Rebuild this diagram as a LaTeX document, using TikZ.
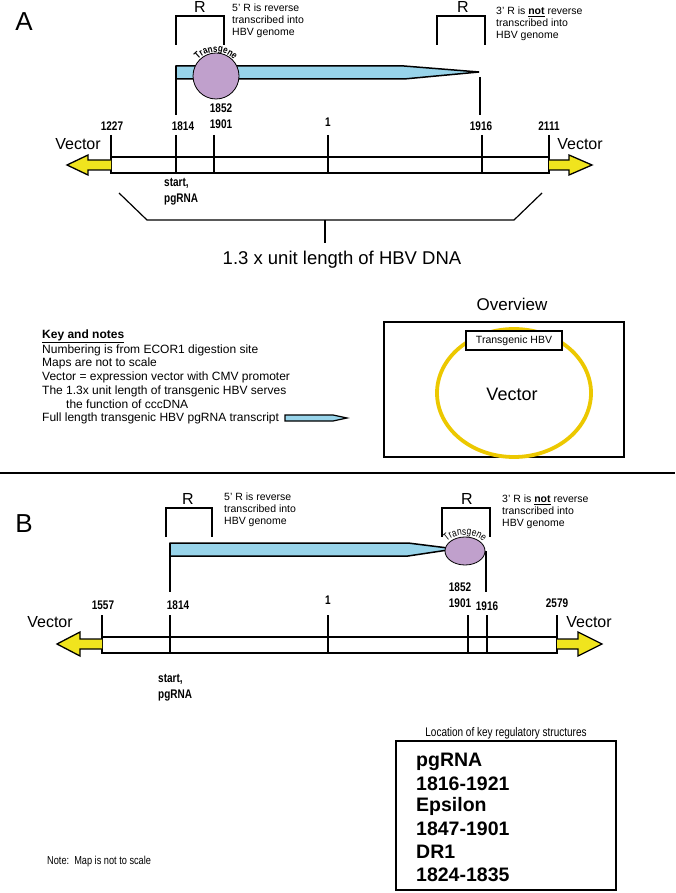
\documentclass[tikz,border=0pt]{standalone}
\usepackage{fontspec}
\setmainfont{Liberation Sans}
\newfontfamily\nar[FakeStretch=0.8]{Liberation Sans}
\usetikzlibrary{decorations.text}
\definecolor{tblue}{RGB}{152,212,234}
\definecolor{tpurple}{RGB}{192,160,204}
\definecolor{arrowy}{RGB}{240,228,30}
\definecolor{ringy}{RGB}{236,200,0}
\newcommand{\myfs}[2]{\fontsize{#1}{#2}\selectfont}
\begin{document}
\begin{tikzpicture}[x=1pt,y=-1pt,
  ln/.style={line width=1.8pt},
  thin ln/.style={line width=1.2pt},
  num/.style={font=\nar\bfseries\myfs{12.5}{15}, inner sep=0},
  vec/.style={font=\myfs{16}{18}, inner sep=0},
  big/.style={font=\myfs{26}{28}, inner sep=0},
  rlab/.style={font=\myfs{16}{18}, inner sep=0},
  note/.style={font=\myfs{10.5}{12.2}, align=left, anchor=west, inner sep=0},
  keyt/.style={font=\myfs{12}{13.7}, anchor=west, inner sep=0},
  transcript/.style={fill=tblue, draw=black, line width=1.5pt, line join=miter},
  yarrow/.style={fill=arrowy, draw=black, line width=1.3pt, line join=miter},
  gene/.style={fill=tpurple, draw=black, line width=0.8pt},
  boxb/.style={font=\bfseries\myfs{19.5}{22.6}, anchor=west, inner sep=0},
]
\path[use as bounding box] (0,0) rectangle (675,893);

% ================= Panel A =================
\node[big] (labA) at (24,22) {A};
% R brackets
\draw[ln] (176,45) -- (176,16) -- (224,16) -- (224,45);
\node[rlab] (rA1) at (200,7) {R};
\node[note] (tA1) at (232,21) {5' R is reverse\\transcribed into\\HBV genome};
\draw[ln] (437,45) -- (437,16) -- (485,16) -- (485,45);
\node[rlab] (rA2) at (463,7) {R};
\node[note] (tA2) at (496,24) {3' R is \textbf{\underline{not}} reverse\\transcribed into\\HBV genome};
% transcript
\draw[transcript] (176,66) -- (404,66) -- (479,72) -- (404,79) -- (176,79) -- cycle;
\draw[ln] (176,66) -- (176,115);
\draw[ln] (480,77) -- (480,115);
\draw[gene] (216,76) circle[radius=23];
\path[decorate, decoration={text along path, text align=center,
  text={|\nar\bfseries\myfs{10}{10}|Transgene}}]
  (216,76) ++(-160:24) arc[start angle=-160, end angle=-20, radius=24];
% main bar
\draw[ln] (111,157) rectangle (549,173);
\foreach \xx in {111,176,214,328,482,549} \draw[ln] (\xx,135) -- (\xx,173);
\node[num] (a1227) at (112,126) {1227};
\node[num] (a1814) at (183,126) {1814};
\node[num] (a1852) at (221,108) {1852};
\node[num] (a1901) at (221,124) {1901};
\node[num] (a1) at (328,122) {1};
\node[num] (a1916) at (481,126) {1916};
\node[num] (a2111) at (549,126) {2111};
% vector arrows
\draw[yarrow] (111,160) -- (88,160) -- (88,155) -- (67,165) -- (88,175) -- (88,170) -- (111,170);
\draw[yarrow] (549,160) -- (569,160) -- (569,155) -- (592,165) -- (569,175) -- (569,170) -- (549,170);
\node[vec] (vA1) at (78,144) {Vector};
\node[vec] (vA2) at (580,144) {Vector};
\node[num, align=left, anchor=west, font=\nar\bfseries\myfs{12.5}{16}] (stA) at (164,192) {start,\\pgRNA};
% 1.3x bracket
\draw[thin ln] (119,193) -- (147,220) -- (514,220) -- (542,193);
\draw[thin ln] (325,220) -- (325,243);
\node[inner sep=0, font=\myfs{18.5}{20}] (unitA) at (342,260) {1.3 x unit length of HBV DNA};

% ================= Key and notes =================
\node[keyt, font=\bfseries\myfs{12}{13.7}] (key0) at (42,336) {\underline{Key and notes}};
\node[keyt] (key1) at (42,350) {Numbering is from ECOR1 digestion site};
\node[keyt] (key2) at (42,363.5) {Maps are not to scale};
\node[keyt] (key3) at (42,377) {Vector = expression vector with CMV promoter};
\node[keyt] (key4) at (42,391) {The 1.3x unit length of transgenic HBV serves};
\node[keyt] (key5) at (66,404.5) {the function of cccDNA};
\node[keyt] (key6) at (42,418) {Full length transgenic HBV pgRNA transcript};
\draw[transcript, line width=1.2pt] (285,415) -- (333,415) -- (347,418) -- (333,421) -- (285,421) -- cycle;

% ================= Overview =================
\node[inner sep=0, font=\myfs{17}{19}] (ovt) at (512,304) {Overview};
\draw[ln] (384,322) rectangle (624,457);
\draw[ringy, line width=3.8pt] (514,393) ellipse[x radius=77, y radius=64];
\node[draw=black, line width=1.8pt, fill=white, minimum width=96pt, minimum height=19pt, inner sep=0,
  font=\myfs{10.5}{12}] (tg) at (514,340.5) {Transgenic HBV};
\node[inner sep=0, font=\myfs{18}{20}] (ovv) at (512,394) {Vector};

% divider
\draw[ln] (0,473) -- (675,473);

% ================= Panel B =================
\node[big] (labB) at (24,524) {B};
\draw[ln] (166,537) -- (166,508) -- (212,508) -- (212,537);
\node[rlab] (rB1) at (188,499) {R};
\node[note] (tB1) at (224,510) {5' R is reverse\\transcribed into\\HBV genome};
\draw[ln] (442,537) -- (442,508) -- (490,508) -- (490,537);
\node[rlab] (rB2) at (467,499) {R};
\node[note] (tB2) at (502,512) {3' R is \textbf{\underline{not}} reverse\\transcribed into\\HBV genome};
\draw[transcript] (170,543) -- (408,543) -- (448,548) -- (448,550) -- (408,556) -- (170,556) -- cycle;
\draw[ln] (170,543) -- (170,592);
\draw[ln] (486,551) -- (486,592);
\draw[gene] (465,551) ellipse[x radius=20, y radius=14];
\path[decorate, decoration={text along path, text align=center,
  text={|\nar\myfs{10.5}{10.5}|Transgene}}]
  (465,551) ++(-175:22 and 16) arc[start angle=-175, end angle=-5, x radius=22, y radius=16];
\draw[ln] (102,637) rectangle (557,653);
\foreach \xx in {102,170,328,468,487,557} \draw[ln] (\xx,615) -- (\xx,653);
\node[num] (b1557) at (103,605) {1557};
\node[num] (b1814) at (178,605) {1814};
\node[num] (b1) at (328,600) {1};
\node[num] (b1852) at (460,587) {1852};
\node[num] (b1901) at (460,603) {1901};
\node[num] (b1916) at (487,606) {1916};
\node[num] (b2579) at (557,603) {2579};
\draw[yarrow] (102,639) -- (80,639) -- (80,632) -- (57,644) -- (80,656) -- (80,649) -- (102,649);
\draw[yarrow] (557,639) -- (578,639) -- (578,632) -- (602,644) -- (578,656) -- (578,649) -- (557,649);
\node[vec] (vB1) at (50,622) {Vector};
\node[vec] (vB2) at (589,622) {Vector};
\node[num, align=left, anchor=west, font=\nar\bfseries\myfs{12.5}{16}] (stB) at (158,688) {start,\\pgRNA};

% ================= bottom =================
\node[inner sep=0, font=\nar\myfs{12.5}{14}] (loct) at (506,733) {Location of key regulatory structures};
\draw[ln] (396,741) rectangle (616,890);
\node[boxb] (k1) at (416,762) {pgRNA};
\node[boxb] (k2) at (416,784) {1816-1921};
\node[boxb] (k3) at (416,806) {Epsilon};
\node[boxb] (k4) at (416,829) {1847-1901};
\node[boxb] (k5) at (416,852) {DR1};
\node[boxb] (k6) at (416,875) {1824-1835};
\node[inner sep=0, anchor=west, font=\nar\myfs{11.5}{13}] (notel) at (47,862) {Note:\ \ Map is not to scale};
\end{tikzpicture}
\end{document}
